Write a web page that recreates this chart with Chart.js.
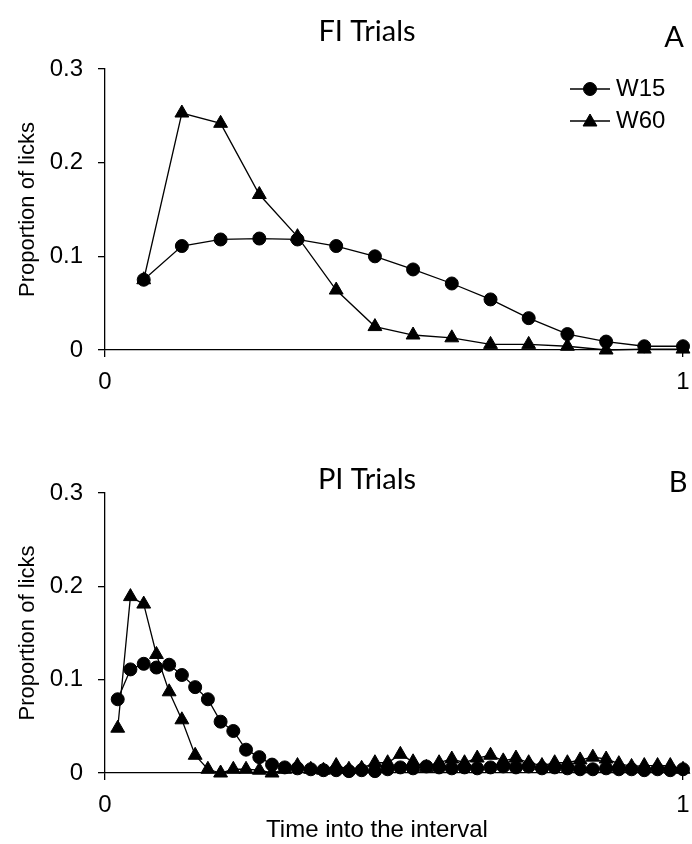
<!DOCTYPE html>
<html lang="en">
<head>
  <meta charset="UTF-8">
  <title>FI / PI Trials</title>
  <style>
    html, body { margin: 0; padding: 0; background: #fff; }
    .panel { position: absolute; left: 0; width: 692px; height: 422px; }
    #panelA { top: 0; }
    #panelB { top: 422px; }
  </style>
</head>
<body>
  <div class="panel" id="panelA"><canvas id="graficoA" width="692" height="422"></canvas></div>
  <div class="panel" id="panelB"><canvas id="graficoB" width="692" height="422"></canvas></div>

  <script src="https://cdn.jsdelivr.net/npm/chart.js"></script>
  <script>
    // FI trials (15 bins)
    const fiTime = [0.067, 0.133, 0.2, 0.267, 0.333, 0.4, 0.467, 0.533, 0.6, 0.667, 0.733, 0.8, 0.867, 0.933, 1];
    const fiW15 = [0.075, 0.111, 0.118, 0.119, 0.118, 0.111, 0.1, 0.086, 0.071, 0.054, 0.034, 0.017, 0.009, 0.004, 0.004];
    const fiW60 = [0.075, 0.253, 0.242, 0.166, 0.121, 0.064, 0.025, 0.016, 0.013, 0.006, 0.006, 0.004, 0.0, 0.001, 0.001];

    // PI trials (45 bins)
    const piTime = [0.022, 0.044, 0.067, 0.089, 0.111, 0.133, 0.156, 0.178, 0.2, 0.222,
                    0.244, 0.267, 0.289, 0.311, 0.333, 0.356, 0.378, 0.4, 0.422, 0.444,
                    0.467, 0.489, 0.511, 0.533, 0.556, 0.578, 0.6, 0.622, 0.644, 0.667,
                    0.689, 0.711, 0.733, 0.756, 0.778, 0.8, 0.822, 0.844, 0.867, 0.889,
                    0.911, 0.933, 0.956, 0.978, 1];
    const piW15 = [0.079, 0.111, 0.117, 0.113, 0.116, 0.105, 0.092, 0.079, 0.055, 0.045,
                   0.025, 0.017, 0.009, 0.006, 0.005, 0.004, 0.003, 0.003, 0.002, 0.003,
                   0.002, 0.004, 0.006, 0.005, 0.007, 0.006, 0.005, 0.006, 0.005, 0.006,
                   0.007, 0.006, 0.007, 0.005, 0.006, 0.005, 0.004, 0.004, 0.005, 0.004,
                   0.004, 0.003, 0.004, 0.003, 0.004];
    const piW60 = [0.048, 0.189, 0.181, 0.127, 0.087, 0.057, 0.019, 0.004, 0.0, 0.004,
                   0.004, 0.003, 0.0, 0.004, 0.008, 0.004, 0.003, 0.008, 0.004, 0.005,
                   0.011, 0.011, 0.02, 0.012, 0.006, 0.011, 0.015, 0.011, 0.016, 0.019,
                   0.013, 0.016, 0.011, 0.008, 0.011, 0.011, 0.014, 0.017, 0.015, 0.01,
                   0.007, 0.008, 0.008, 0.008, 0.004];

    const xTicks = [0, 1];
    const yTicks = [0, 0.1, 0.2, 0.3];
    const seriesNames = ['W15', 'W60'];

    const arial = "'Liberation Sans', Arial, sans-serif";
    const calibri = "Lato, 'Open Sans', sans-serif";

    function pairs(xs, ys) {
      return xs.map((x, i) => ({ x: x, y: ys[i] }));
    }

    function markerRadius(style) {
      return style === 'triangle' ? 8 : 6.5;
    }

    function series(label, xs, ys, style) {
      return {
        label: label,
        data: pairs(xs, ys),
        borderColor: '#000',
        backgroundColor: '#000',
        borderWidth: 1.3,
        pointStyle: style,
        pointRadius: markerRadius(style),
        pointBorderWidth: 1,
        pointBackgroundColor: '#000',
        pointBorderColor: '#000',
        tension: 0,
        clip: false,
        order: style === 'triangle' ? 0 : 1
      };
    }

    // titles, panel letter, x title and the line+marker legend
    const panelText = {
      id: 'panelText',
      afterDraw(chart, args, opts) {
        const ctx = chart.ctx;
        ctx.save();
        ctx.fillStyle = '#000';
        ctx.strokeStyle = '#000';
        ctx.textBaseline = 'middle';
        ctx.textAlign = 'center';
        ctx.font = '29px ' + calibri;
        ctx.fillText(opts.title, opts.titleX, opts.titleY);
        ctx.fillText(opts.letter, opts.letterX, opts.letterY);

        if (opts.xTitle) {
          ctx.font = '24px ' + arial;
          ctx.fillText(opts.xTitle, opts.xTitleX, opts.xTitleY);
        }

        if (opts.legend) {
          const styles = ['circle', 'triangle'];
          seriesNames.forEach((name, i) => {
            const y = opts.legendY + i * 32;
            ctx.lineWidth = 1.3;
            ctx.beginPath();
            ctx.moveTo(opts.legendX, y);
            ctx.lineTo(opts.legendX + 40, y);
            ctx.stroke();
            ctx.lineWidth = 1;
            Chart.helpers.drawPoint(ctx, {
              pointStyle: styles[i],
              radius: markerRadius(styles[i]),
              borderWidth: 1,
              rotation: 0
            }, opts.legendX + 20, y + (styles[i] === 'triangle' ? 1 : 0));
            ctx.textAlign = 'left';
            ctx.font = '24px ' + arial;
            ctx.fillText(name, opts.legendX + 46, y);
          });
        }
        ctx.restore();
      }
    };

    function buildOptions(cfg) {
      return {
        responsive: false,
        animation: false,
        events: [],
        layout: { padding: { top: cfg.top, left: 0, right: 7, bottom: cfg.bottom } },
        plugins: {
          legend: { display: false },
          tooltip: { enabled: false },
          panelText: cfg.text
        },
        scales: {
          x: {
            type: 'linear',
            min: 0,
            max: 1,
            afterBuildTicks: s => { s.ticks = xTicks.map(v => ({ value: v })); },
            afterFit: s => { s.height = cfg.xHeight; s.paddingLeft = 0; s.paddingRight = 0; },
            ticks: { color: '#000', font: { family: arial, size: 24 }, padding: 11, maxRotation: 0 },
            grid: { display: true, drawOnChartArea: false, drawTicks: true, tickLength: 7, color: '#000', lineWidth: 1.3 },
            border: { display: true, color: '#000', width: 1.3 }
          },
          y: {
            type: 'linear',
            min: 0,
            max: 0.3,
            afterBuildTicks: s => { s.ticks = yTicks.map(v => ({ value: v })); },
            afterFit: s => { s.width = 105; },
            ticks: { color: '#000', font: { family: arial, size: 24 }, padding: 15 },
            grid: { display: true, drawOnChartArea: false, drawTicks: true, tickLength: 7, color: '#000', lineWidth: 1.3 },
            border: { display: true, color: '#000', width: 1.3 },
            title: {
              display: true,
              text: 'Proportion of licks',
              color: '#000',
              font: { family: arial, size: 22 },
              padding: { top: 15, bottom: 0 }
            }
          }
        }
      };
    }

    new Chart(document.querySelector('#graficoA'), {
      type: 'line',
      data: {
        datasets: [
          series(seriesNames[0], fiTime, fiW15, 'circle'),
          series(seriesNames[1], fiTime, fiW60, 'triangle')
        ]
      },
      options: buildOptions({
        top: 69, bottom: 22, xHeight: 50,
        text: { title: 'FI Trials', titleX: 367, titleY: 32, letter: 'A', letterX: 674, letterY: 38,
                legend: true, legendX: 570, legendY: 89 }
      }),
      plugins: [panelText]
    });

    new Chart(document.querySelector('#graficoB'), {
      type: 'line',
      data: {
        datasets: [
          series(seriesNames[0], piTime, piW15, 'circle'),
          series(seriesNames[1], piTime, piW60, 'triangle')
        ]
      },
      options: buildOptions({
        top: 71, bottom: 0, xHeight: 71,
        text: { title: 'PI Trials', titleX: 367, titleY: 58, letter: 'B', letterX: 678, letterY: 61,
                xTitle: 'Time into the interval', xTitleX: 377, xTitleY: 408, legend: false }
      }),
      plugins: [panelText]
    });
  </script>
</body>
</html>
